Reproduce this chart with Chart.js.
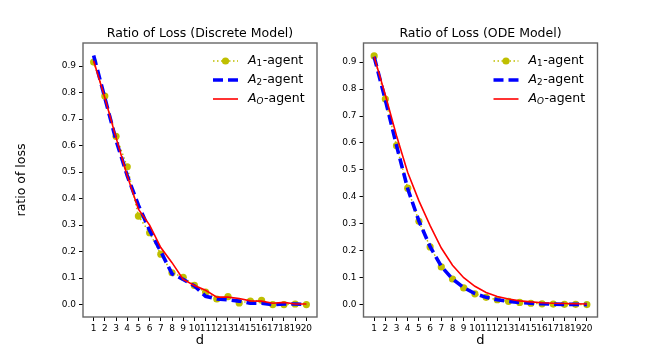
<!DOCTYPE html>
<html>
<head>
<meta charset="utf-8">
<script src="https://cdn.jsdelivr.net/npm/chart.js@4.4.0/dist/chart.umd.min.js"></script>
<style>
    html, body { margin: 0; padding: 0; background: #fff; }
    .box { position: absolute; top: 0; width: 332px; height: 363px; }
</style>
</head>
<body>
<div class="box" style="left:0"><canvas id="discrete"></canvas></div>
<div class="box" style="left:332px"><canvas id="ode"></canvas></div>
<script>
    'use strict';

    // d values on the x axis
    var dValues = [1, 2, 3, 4, 5, 6, 7, 8, 9, 10, 11, 12, 13, 14, 15, 16, 17, 18, 19, 20];
    var yTicks = [0.0, 0.1, 0.2, 0.3, 0.4, 0.5, 0.6, 0.7, 0.8, 0.9];

    // Discrete model
    var discreteA1 = [0.915, 0.787, 0.635, 0.52, 0.334, 0.271, 0.19, 0.12, 0.103, 0.072, 0.047, 0.021, 0.03, 0.006, 0.013, 0.016, 0.0, 0.0, 0.002, 0.0];
    var discreteA2 = [0.94, 0.78, 0.62, 0.486, 0.375, 0.28, 0.2, 0.116, 0.095, 0.07, 0.031, 0.021, 0.018, 0.013, 0.005, 0.005, 0.0, 0.002, 0.002, 0.0];
    var discreteAO = [0.92, 0.78, 0.63, 0.486, 0.36, 0.30, 0.215, 0.158, 0.095, 0.072, 0.054, 0.028, 0.028, 0.023, 0.014, 0.013, 0.005, 0.008, 0.002, 0.002];

    // ODE model
    var odeA1 = [0.923, 0.763, 0.59, 0.432, 0.309, 0.214, 0.14, 0.095, 0.062, 0.04, 0.027, 0.018, 0.012, 0.008, 0.005, 0.003, 0.002, 0.001, 0.001, 0.0];
    var odeA2 = [0.92, 0.76, 0.59, 0.43, 0.31, 0.215, 0.142, 0.095, 0.063, 0.041, 0.027, 0.018, 0.012, 0.008, 0.005, 0.003, 0.002, 0.001, 0.001, 0.0];
    var odeAO = [0.92, 0.778, 0.627, 0.49, 0.385, 0.293, 0.21, 0.146, 0.1, 0.068, 0.045, 0.03, 0.021, 0.014, 0.01, 0.007, 0.005, 0.004, 0.003, 0.002];

    var legendSubs = ['1', '2', 'O'];
    var FONT = 'DejaVu Sans';
    var YELLOW = '#bfbf00', BLUE = '#0000ff', RED = '#ff0000';

    function points(ys) {
        return ys.map(function (v, i) { return { x: dValues[i], y: v }; });
    }

    function makeDatasets(a1, a2, ao) {
        return [{
            label: 'A1-agent',
            data: points(a1),
            borderColor: YELLOW,
            backgroundColor: YELLOW,
            borderWidth: 1.5,
            borderDash: [1.5, 2.5],
            pointRadius: 3.6,
            pointBorderWidth: 0,
            pointBackgroundColor: YELLOW,
            order: 2
        }, {
            label: 'A2-agent',
            data: points(a2),
            borderColor: BLUE,
            borderWidth: 3.6,
            borderDash: [10, 5],
            pointRadius: 0,
            order: 1
        }, {
            label: 'AO-agent',
            data: points(ao),
            borderColor: RED,
            borderWidth: 1.6,
            pointRadius: 0,
            order: 0
        }];
    }

    // full box round the plot area, like matplotlib spines
    var spines = {
        id: 'spines',
        afterDraw: function (chart) {
            var a = chart.chartArea, ctx = chart.ctx;
            ctx.save();
            ctx.strokeStyle = '#666';
            ctx.lineWidth = 1.4;
            ctx.strokeRect(a.left, a.top, a.right - a.left, a.bottom - a.top);
            ctx.restore();
        }
    };

    // legend inside the upper right corner, with subscripts
    var mathLegend = {
        id: 'mathLegend',
        afterDatasetsDraw: function (chart) {
            var a = chart.chartArea, ctx = chart.ctx;
            var x0 = a.right - 104, x1 = a.right - 79, tx = a.right - 69;
            var rows = [a.top + 18, a.top + 37, a.top + 56];
            ctx.save();
            ctx.lineCap = 'butt';
            // A1 sample
            ctx.strokeStyle = YELLOW; ctx.lineWidth = 1.5; ctx.setLineDash([1.5, 2.5]);
            ctx.beginPath(); ctx.moveTo(x0, rows[0]); ctx.lineTo(x1, rows[0]); ctx.stroke();
            ctx.setLineDash([]);
            ctx.fillStyle = YELLOW;
            ctx.beginPath(); ctx.arc((x0 + x1) / 2, rows[0], 3.6, 0, Math.PI * 2); ctx.fill();
            // A2 sample
            ctx.strokeStyle = BLUE; ctx.lineWidth = 3.6; ctx.setLineDash([10, 5]);
            ctx.beginPath(); ctx.moveTo(x0, rows[1]); ctx.lineTo(x1, rows[1]); ctx.stroke();
            ctx.setLineDash([]);
            // AO sample
            ctx.strokeStyle = RED; ctx.lineWidth = 1.6;
            ctx.beginPath(); ctx.moveTo(x0, rows[2]); ctx.lineTo(x1, rows[2]); ctx.stroke();

            ctx.fillStyle = '#000';
            ctx.textBaseline = 'middle';
            ctx.textAlign = 'left';
            rows.forEach(function (y, i) {
                var x = tx;
                ctx.font = 'italic 12.5px "' + FONT + '"';
                ctx.fillText('A', x, y);
                x += ctx.measureText('A').width;
                var sub = legendSubs[i];
                ctx.font = (sub === 'O' ? 'italic ' : '') + '8.8px "' + FONT + '"';
                ctx.fillText(sub, x, y + 3);
                x += ctx.measureText(sub).width + 0.5;
                ctx.font = '12.5px "' + FONT + '"';
                ctx.fillText('-agent', x, y);
            });
            ctx.restore();
        }
    };

    function makeChart(id, title, a1, a2, ao, yMin, yMax, pad, yWidth, yLabel) {
        var ctx = document.getElementById(id).getContext('2d');
        return new Chart(ctx, {
            type: 'line',
            data: { datasets: makeDatasets(a1, a2, ao) },
            plugins: [spines, mathLegend],
            options: {
                responsive: true,
                maintainAspectRatio: false,
                animation: false,
                layout: { padding: pad },
                plugins: {
                    legend: { display: false },
                    tooltip: { enabled: false },
                    title: {
                        display: true,
                        text: title,
                        fullSize: false,
                        color: '#000',
                        font: { family: FONT, size: 12.5, weight: 'normal' },
                        padding: { top: 6.5, bottom: 1.5 }
                    }
                },
                scales: {
                    x: {
                        type: 'linear',
                        min: 0.05,
                        max: 20.95,
                        afterBuildTicks: function (s) {
                            s.ticks = dValues.map(function (v) { return { value: v }; });
                        },
                        afterFit: function (s) { s.height = 35; },
                        grid: { drawOnChartArea: false, drawTicks: true, tickLength: 4, tickColor: '#000' },
                        border: { display: false },
                        ticks: {
                            autoSkip: false, maxRotation: 0, minRotation: 0,
                            color: '#000', padding: 2,
                            font: { family: FONT, size: 9 }
                        },
                        title: {
                            display: true, text: 'd', color: '#000',
                            font: { family: FONT, size: 13 },
                            padding: { top: 0, bottom: 4 }
                        }
                    },
                    y: {
                        type: 'linear',
                        min: yMin,
                        max: yMax,
                        afterBuildTicks: function (s) {
                            s.ticks = yTicks.map(function (v) { return { value: v }; });
                        },
                        afterFit: function (s) { s.width = yWidth; },
                        grid: { drawOnChartArea: false, drawTicks: true, tickLength: 4, tickColor: '#000' },
                        border: { display: false },
                        ticks: {
                            color: '#000', padding: 3,
                            font: { family: FONT, size: 9 },
                            callback: function (v) { return v.toFixed(1); }
                        },
                        title: {
                            display: !!yLabel, text: yLabel || '', color: '#000',
                            font: { family: FONT, size: 12.5 },
                            padding: { top: 4, bottom: 0 }
                        }
                    }
                }
            }
        });
    }

    makeChart('discrete', 'Ratio of Loss (Discrete Model)', discreteA1, discreteA2, discreteAO,
        -0.047, 0.987, { left: 10, right: 15, top: 20, bottom: 11 }, 73, 'ratio of loss');
    makeChart('ode', 'Ratio of Loss (ODE Model)', odeA1, odeA2, odeAO,
        -0.046, 0.971, { left: 0, right: 66.5, top: 20, bottom: 11 }, 31.5, null);
</script>
</body>
</html>
